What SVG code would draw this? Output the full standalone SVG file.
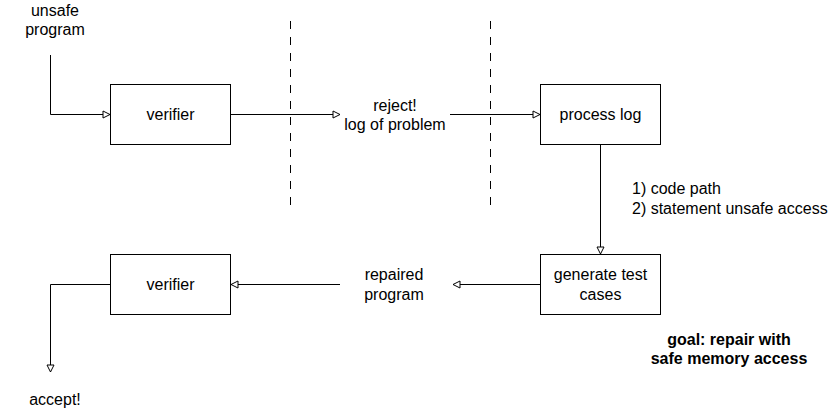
<svg xmlns="http://www.w3.org/2000/svg" width="840" height="414" viewBox="0 0 840 414">
<style>
.box{fill:#fff;stroke:#000;stroke-width:1}
.t{font-family:"Liberation Sans",Arial,sans-serif;font-size:16px;fill:#000;text-anchor:middle}
.l{text-anchor:start}
.b{font-weight:bold}
.c{fill:none;stroke:#000;stroke-width:1}
.d{fill:none;stroke:#000;stroke-width:1;stroke-dasharray:8 8}
</style>
<defs>
<marker id="arr" markerUnits="userSpaceOnUse" markerWidth="10" markerHeight="10" viewBox="-1 -1 10 9" refX="7" refY="3.5" orient="auto">
<path d="M0,0 L7,3.5 L0,7 Z" fill="#fff" stroke="#000" stroke-width="1"/>
</marker>
</defs>
<rect width="840" height="414" fill="#fff"/>
<g id="separators">
<line class="d" x1="290.5" y1="21" x2="290.5" y2="205"/>
<line class="d" x1="490.5" y1="21" x2="490.5" y2="205"/>
</g>
<g id="connectors">
<path class="c" d="M50.5,55 V114.5 H110" marker-end="url(#arr)"/>
<path class="c" d="M230,114.5 H340" marker-end="url(#arr)"/>
<path class="c" d="M450,114.5 H540" marker-end="url(#arr)"/>
<path class="c" d="M600.5,144 V254" marker-end="url(#arr)"/>
<path class="c" d="M540,284.5 H453" marker-end="url(#arr)"/>
<path class="c" d="M340,284.5 H231" marker-end="url(#arr)"/>
<path class="c" d="M110,284.5 H50.5 V372" marker-end="url(#arr)"/>
</g>
<g id="unsafe-program">
<text class="t" x="55" y="16">unsafe</text>
<text class="t" x="55" y="35">program</text>
</g>
<g id="verifier1">
<rect class="box" x="110.5" y="84.5" width="120" height="60"/>
<text class="t" x="170.5" y="120">verifier</text>
</g>
<g id="reject">
<text class="t" x="395" y="111">reject!</text>
<text class="t" x="395" y="130">log of problem</text>
</g>
<g id="process-log">
<rect class="box" x="540.5" y="84.5" width="120" height="60"/>
<text class="t" x="600.5" y="120">process log</text>
</g>
<g id="code-path-label">
<text class="t l" x="632" y="194">1) code path</text>
<text class="t l" x="632" y="214">2) statement unsafe access</text>
</g>
<g id="generate-test-cases">
<rect class="box" x="540.5" y="254.5" width="120" height="60"/>
<text class="t" x="600.5" y="280">generate test</text>
<text class="t" x="600.5" y="300">cases</text>
</g>
<g id="repaired-program">
<text class="t" x="394" y="280">repaired</text>
<text class="t" x="394" y="300">program</text>
</g>
<g id="verifier2">
<rect class="box" x="110.5" y="254.5" width="120" height="60"/>
<text class="t" x="170.5" y="290">verifier</text>
</g>
<g id="accept">
<text class="t" x="55" y="405">accept!</text>
</g>
<g id="goal">
<text class="t b" x="729" y="345">goal: repair with</text>
<text class="t b" x="729" y="364">safe memory access</text>
</g>
</svg>
